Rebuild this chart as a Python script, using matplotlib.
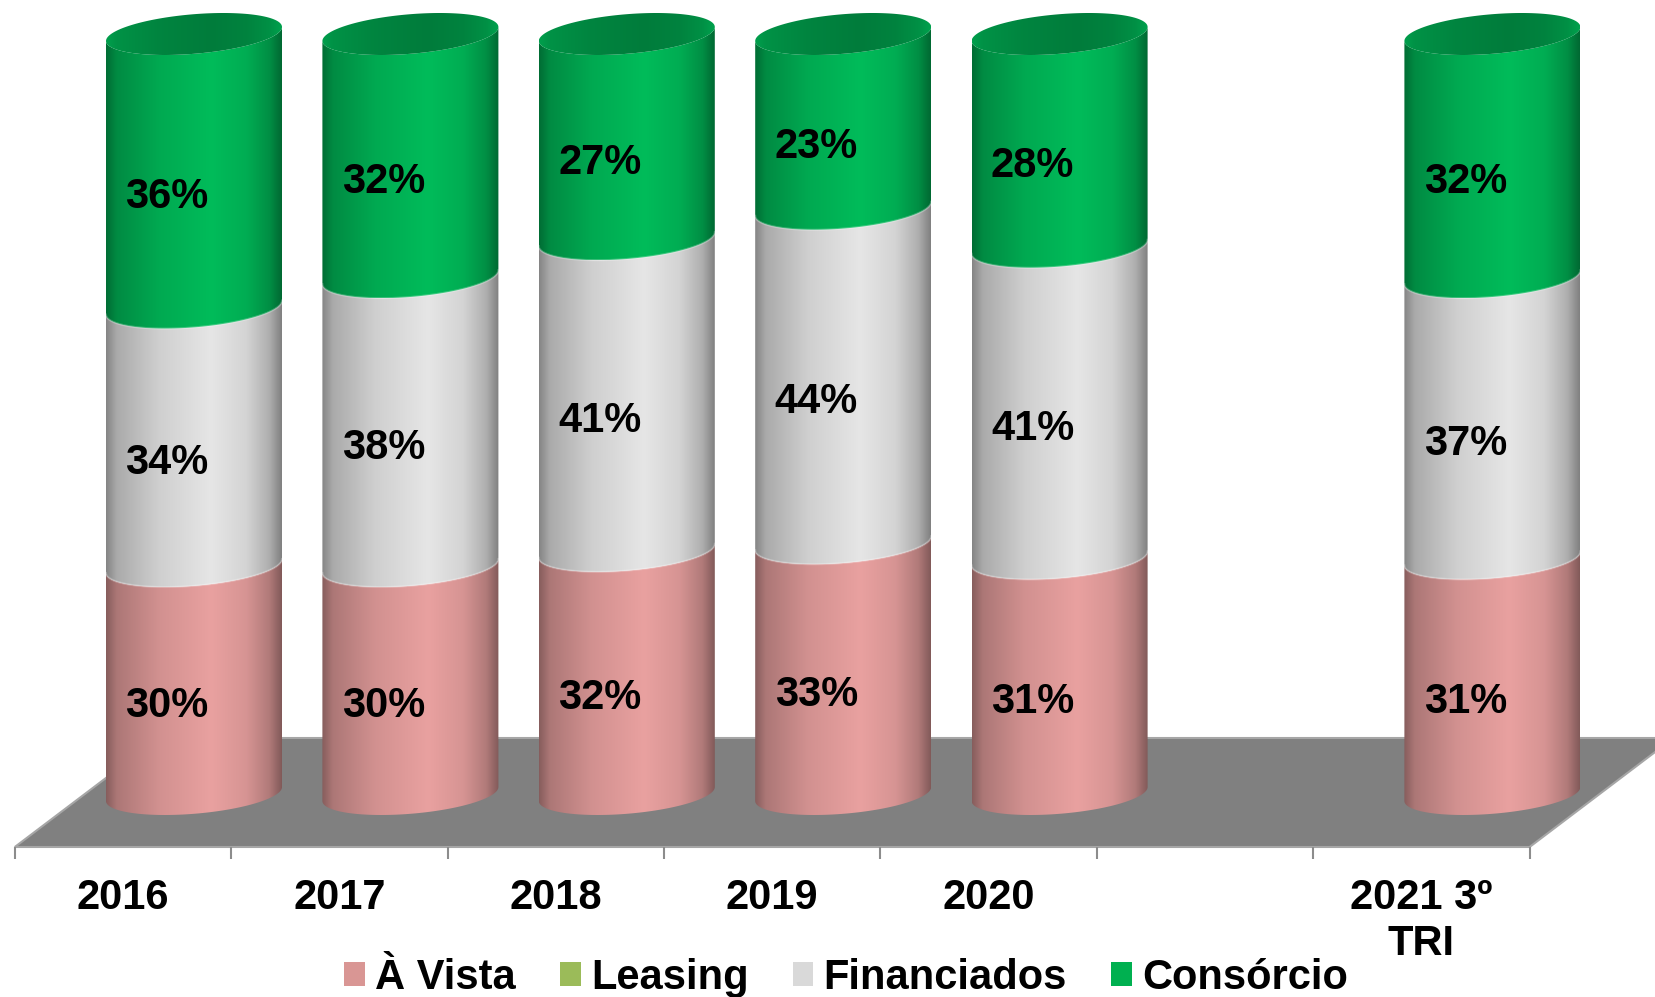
import matplotlib
matplotlib.use("Agg")
import matplotlib.pyplot as plt
import numpy as np
from matplotlib.patches import Patch, Polygon

plt.rcParams["font.family"] = ["Liberation Sans", "DejaVu Sans"]
plt.rcParams["font.weight"] = "bold"

# data
categories = ["2016", "2017", "2018", "2019", "2020", "", "2021 3º\nTRI"]
a_vista = [30, 30, 32, 33, 31, None, 31]
leasing = [0, 0, 0, 0, 0, None, 0]
financiados = [34, 38, 41, 44, 41, None, 37]
consorcio = [36, 32, 27, 23, 28, None, 32]

series_names = ["À Vista", "Leasing", "Financiados", "Consórcio"]
series_values = [a_vista, leasing, financiados, consorcio]
legend_colors = ["#d99694", "#9bbb59", "#d9d9d9", "#00b050"]
body_colors = ["#e9a1a0", "#b5d56a", "#e6e6e6", "#00bc5a"]

# the 3D look, in pixels of the 1655x997 image
W, H = 1655, 997
X0, X_STEP = 194, 216.4    # centre of first bar, distance between bars
Y0, Y_STEP = 794, 7.6      # pixel row of value 0, pixels per percent
RADIUS = 88 / X_STEP
TILT = 7 / Y_STEP
DEPTH = 19.8 / Y_STEP
FLOOR_SHIFT = 144 / X_STEP  # floor slant
FLOOR_FRONT = -53 / Y_STEP
FLOOR_BACK = 56 / Y_STEP
AXIS_OFFSET = 71 / X_STEP   # axis labels sit left of the bars

# shading across a cylinder, 0 = left edge, 1 = right edge
SHADE_U = [0, 0.06, 0.3, 0.6, 0.8, 0.93, 1]
SHADE_V = [0.58, 0.74, 0.9, 1, 0.92, 0.76, 0.56]


def gradient(color, reverse=False):
    u = np.linspace(0, 1, 200)
    shade = np.interp(u, SHADE_U, SHADE_V)
    if reverse:
        shade = 0.66 + 0.2 * (1 - shade) / 0.45
    rgb = np.array(matplotlib.colors.to_rgb(color))
    return (shade[:, None] * rgb)[None, :, :]


def ellipse(c, v, t):
    return c + RADIUS * np.cos(t), v + TILT * np.cos(t) - DEPTH * np.sin(t)


def front_arc(c, v):
    return ellipse(c, v, np.linspace(0, np.pi, 80))


def fill_shaded(ax, xs, ys, c, color, zorder, reverse=False):
    poly = Polygon(np.column_stack([xs, ys]), closed=True, transform=ax.transData,
                   facecolor="none", edgecolor="none")
    ax.add_patch(poly)
    img = ax.imshow(gradient(color, reverse), aspect="auto", interpolation="bilinear",
                    extent=[c - RADIUS, c + RADIUS, ys.min(), ys.max()], zorder=zorder)
    img.set_clip_path(poly)


fig = plt.figure(figsize=(W / 100, H / 100), dpi=100)
ax = fig.add_axes([0, 0, 1, 1])

# floor and axis
positions = np.arange(len(categories))
edges = np.arange(len(categories) + 1) - 0.5 - AXIS_OFFSET
floor = Polygon(
    [(edges[0], FLOOR_FRONT), (edges[0] + FLOOR_SHIFT, FLOOR_BACK),
     (edges[-1] + FLOOR_SHIFT, FLOOR_BACK), (edges[-1], FLOOR_FRONT)],
    closed=True, facecolor="#808080", edgecolor="#a6a6a6", linewidth=1.5, zorder=1,
)
ax.add_patch(floor)
ax.vlines(edges, FLOOR_FRONT - 12 / Y_STEP, FLOOR_FRONT, color="#8c8c8c", linewidth=1.5, zorder=1)

for c, name in zip(positions, categories):
    ax.text(c - AXIS_OFFSET, FLOOR_FRONT - 31 / Y_STEP, name, ha="center", va="top",
            fontsize=30, linespacing=1.18, zorder=5)

# cylinders
for c in positions:
    if series_values[0][c] is None:
        continue
    bottom = 0
    for values, color in zip(series_values, body_colors):
        value = values[c]
        if value == 0:
            continue
        top = bottom + value
        x_low, y_low = front_arc(c, bottom)
        x_up, y_up = front_arc(c, top)
        xs = np.concatenate([x_low, x_up[::-1]])
        ys = np.concatenate([y_low, y_up[::-1]])
        fill_shaded(ax, xs, ys, c, color, zorder=3)
        # pale rim where two segments meet
        if bottom > 0:
            ax.plot(x_low, y_low, color="white", alpha=0.25, linewidth=1.5, zorder=3.5)
        ax.annotate(f"{value}%", (c, (bottom + top) / 2), xytext=(-27, -26),
                    textcoords="offset pixels", ha="center", va="center",
                    fontsize=30, zorder=6)
        bottom = top
    # top cap of the stack
    x_cap, y_cap = ellipse(c, bottom, np.linspace(0, 2 * np.pi, 160))
    fill_shaded(ax, x_cap, y_cap, c, body_colors[-1], zorder=4, reverse=True)

# legend
handles = [Patch(facecolor=col, edgecolor="none", label=name)
           for name, col in zip(series_names, legend_colors)]
fig.legend(handles=handles, loc="center", bbox_to_anchor=(846 / W, 1 - 978 / H), ncols=4,
           frameon=False, fontsize=30, handlelength=0.5, handleheight=0.5,
           handletextpad=0.24, columnspacing=1.06, borderpad=0, borderaxespad=0)

ax.set_xlim((0 - X0) / X_STEP, (W - X0) / X_STEP)
ax.set_ylim((Y0 - H) / Y_STEP, Y0 / Y_STEP)
ax.axis("off")

fig.savefig("out.png", dpi=100)
